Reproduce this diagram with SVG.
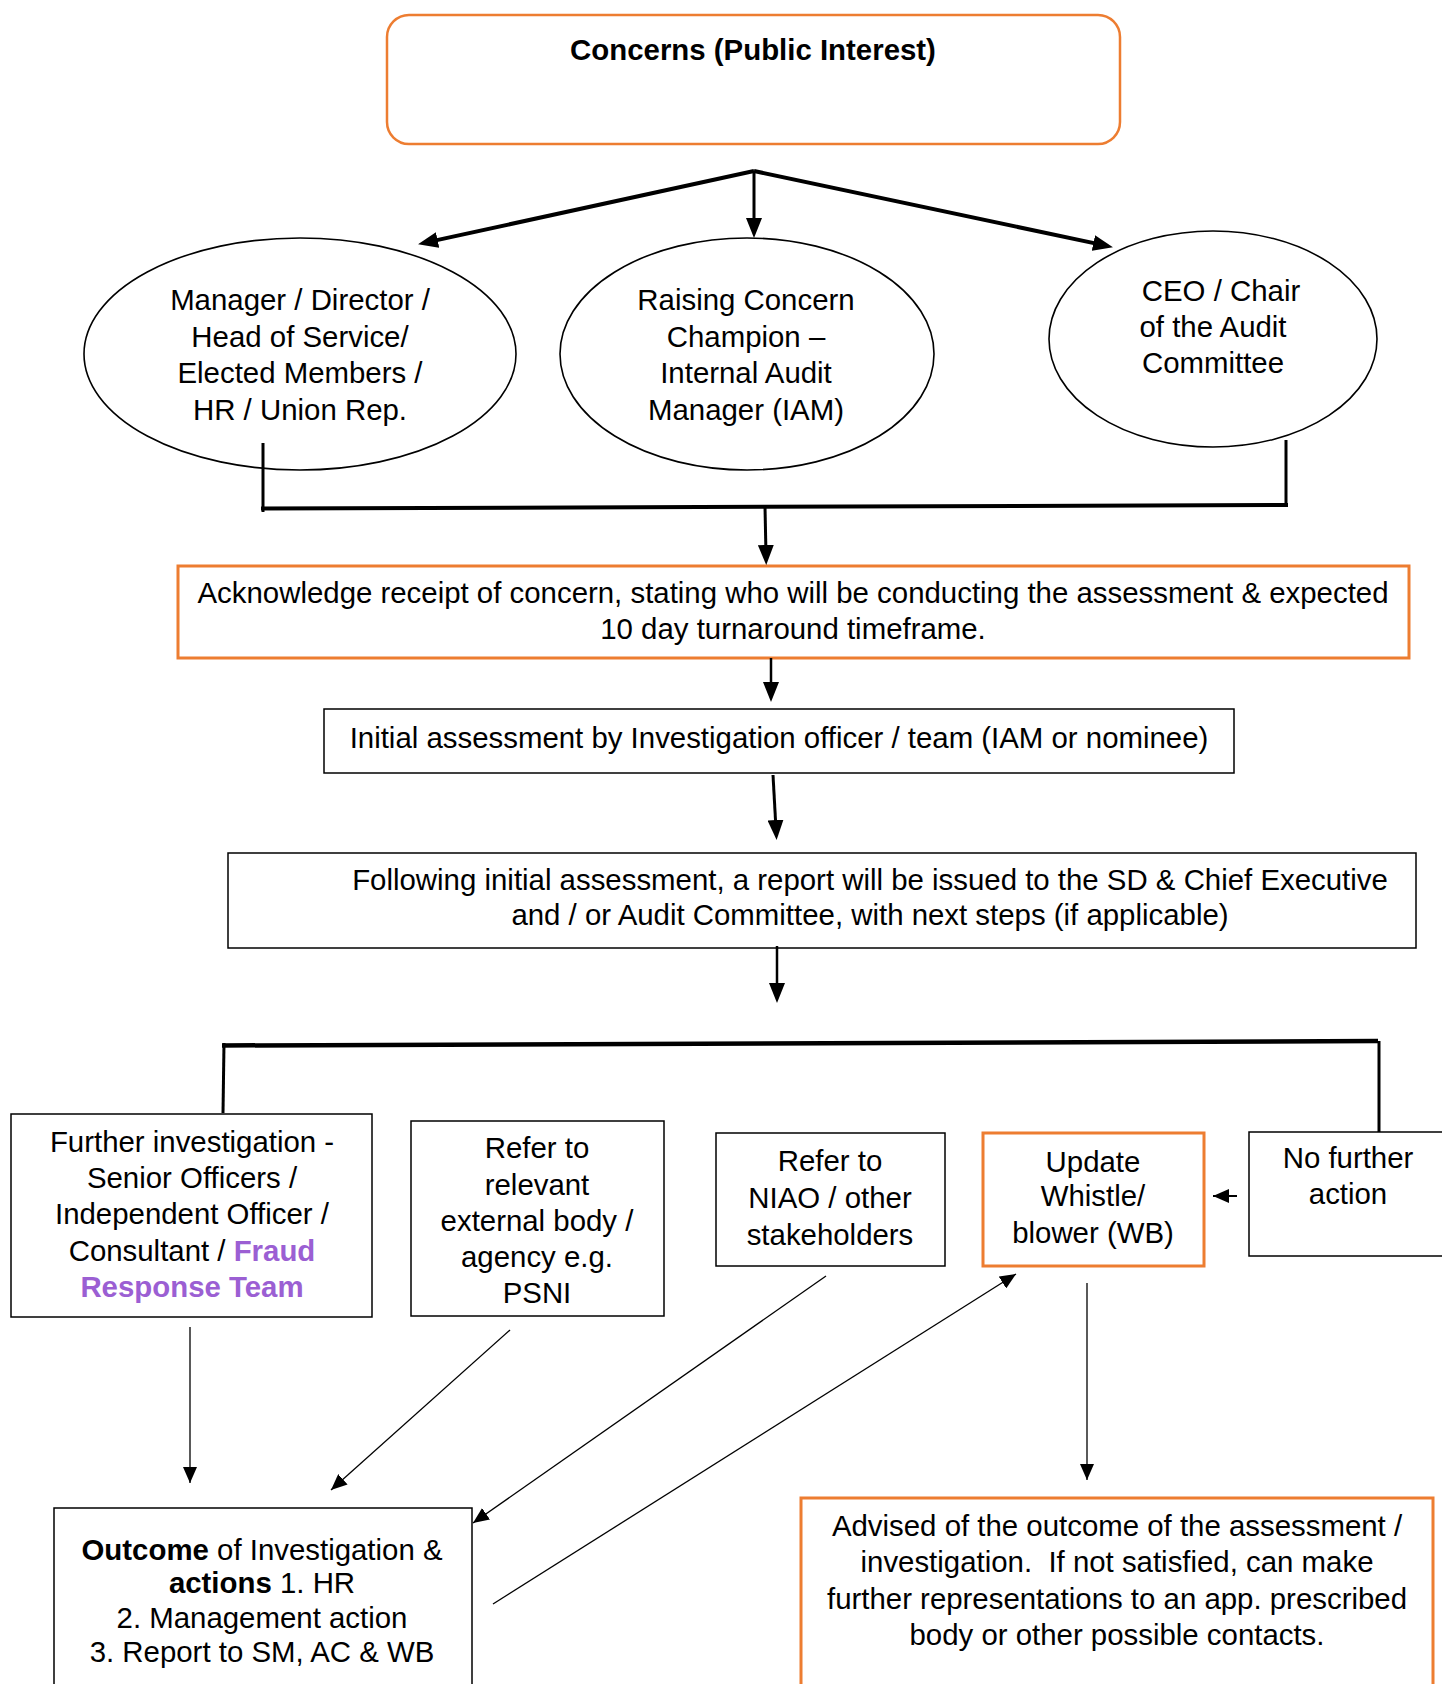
<svg xmlns="http://www.w3.org/2000/svg" width="1442" height="1684" viewBox="0 0 1442 1684">
<defs>
<style>
.t{font-family:"Liberation Sans",Arial,Helvetica,sans-serif;font-size:29.4px;fill:#000;text-anchor:middle}
.b{font-weight:bold}
.p{fill:#9B5FD3;font-weight:bold}
.box{fill:#fff;stroke:#000;stroke-width:1.5}
.obox{fill:#fff;stroke:#ED7D31;stroke-width:3}
.ell{fill:#fff;stroke:#000;stroke-width:1.6}
.ln{fill:none;stroke:#000}
</style>
<marker id="ahB" markerUnits="userSpaceOnUse" markerWidth="20" markerHeight="16" viewBox="0 0 20 16" refX="9" refY="8" orient="auto">
<path d="M0,0 L20,8 L0,16 z" fill="#000"/>
</marker>
<marker id="ahS" markerUnits="userSpaceOnUse" markerWidth="16" markerHeight="14" viewBox="0 0 16 14" refX="16" refY="7" orient="auto">
<path d="M0,0 L16,7 L0,14 z" fill="#000"/>
</marker>
</defs>
<rect width="1442" height="1684" fill="#fff"/>

<g id="concerns">
<rect x="387" y="15" width="733" height="129" rx="22" ry="22" fill="#fff" stroke="#ED7D31" stroke-width="2.5"/>
<text class="t b" x="753" y="60">Concerns (Public Interest)</text>
</g>

<g id="manager">
<ellipse class="ell" cx="300" cy="354" rx="216" ry="116"/>
<text class="t" x="300" y="310">Manager / Director /</text>
<text class="t" x="300" y="347">Head of Service/</text>
<text class="t" x="300" y="383">Elected Members /</text>
<text class="t" x="300" y="420">HR / Union Rep.</text>
</g>

<g id="champion">
<ellipse class="ell" cx="747" cy="354" rx="187" ry="116"/>
<text class="t" x="746" y="310">Raising Concern</text>
<text class="t" x="746" y="347">Champion –</text>
<text class="t" x="746" y="383">Internal Audit</text>
<text class="t" x="746" y="420">Manager (IAM)</text>
</g>

<g id="ceo">
<ellipse class="ell" cx="1213" cy="339" rx="164" ry="108"/>
<text class="t" x="1221" y="301">CEO / Chair</text>
<text class="t" x="1213" y="337">of the Audit</text>
<text class="t" x="1213" y="373">Committee</text>
</g>

<g id="acknowledge">
<rect class="obox" x="178" y="566" width="1231" height="92"/>
<text class="t" x="793" y="603">Acknowledge receipt of concern, stating who will be conducting the assessment &amp; expected</text>
<text class="t" x="793" y="639">10 day turnaround timeframe.</text>
</g>

<g id="initial">
<rect class="box" x="324" y="709" width="910" height="64" stroke-width="2"/>
<text class="t" x="779" y="748">Initial assessment by Investigation officer / team (IAM or nominee)</text>
</g>

<g id="following">
<rect class="box" x="228" y="853" width="1188" height="95" stroke-width="2.5"/>
<text class="t" x="870" y="890">Following initial assessment, a report will be issued to the SD &amp; Chief Executive</text>
<text class="t" x="870" y="925">and / or Audit Committee, with next steps (if applicable)</text>
</g>

<g id="further">
<rect class="box" x="11" y="1114" width="361" height="203"/>
<text class="t" x="192" y="1152">Further investigation -</text>
<text class="t" x="192" y="1188">Senior Officers /</text>
<text class="t" x="192" y="1224">Independent Officer /</text>
<text class="t" x="192" y="1261">Consultant / <tspan class="p">Fraud</tspan></text>
<text class="t p" x="192" y="1297">Response Team</text>
</g>

<g id="external">
<rect class="box" x="411" y="1121" width="253" height="195"/>
<text class="t" x="537" y="1158">Refer to</text>
<text class="t" x="537" y="1195">relevant</text>
<text class="t" x="537" y="1231">external body /</text>
<text class="t" x="537" y="1267">agency e.g.</text>
<text class="t" x="537" y="1303">PSNI</text>
</g>

<g id="niao">
<rect class="box" x="716" y="1133" width="229" height="133"/>
<text class="t" x="830" y="1171">Refer to</text>
<text class="t" x="830" y="1208">NIAO / other</text>
<text class="t" x="830" y="1245">stakeholders</text>
</g>

<g id="update">
<rect class="obox" x="983" y="1133" width="221" height="133" stroke-width="2.5"/>
<text class="t" x="1093" y="1172">Update</text>
<text class="t" x="1093" y="1206">Whistle/</text>
<text class="t" x="1093" y="1243">blower (WB)</text>
</g>

<g id="nofurther">
<rect class="box" x="1249" y="1132" width="200" height="124"/>
<text class="t" x="1348" y="1168">No further</text>
<text class="t" x="1348" y="1204">action</text>
</g>

<g id="outcome">
<rect class="box" x="54" y="1508" width="418" height="185" stroke-width="3"/>
<text class="t" x="262" y="1560"><tspan class="b">Outcome</tspan> of Investigation &amp;</text>
<text class="t" x="262" y="1593"><tspan class="b">actions</tspan> 1. HR</text>
<text class="t" x="262" y="1628">2. Management action</text>
<text class="t" x="262" y="1662">3. Report to SM, AC &amp; WB</text>
</g>

<g id="advised">
<rect class="obox" x="801" y="1498" width="632" height="195"/>
<text class="t" x="1117" y="1536">Advised of the outcome of the assessment /</text>
<text class="t" x="1117" y="1572">investigation.&#160; If not satisfied, can make</text>
<text class="t" x="1117" y="1609">further representations to an app. prescribed</text>
<text class="t" x="1117" y="1645">body or other possible contacts.</text>
</g>

<g id="connectors">
<line class="ln" x1="754" y1="171" x2="428.8" y2="241.9" stroke-width="4" marker-end="url(#ahB)"/>
<line class="ln" x1="754" y1="171" x2="754" y2="227" stroke-width="3" marker-end="url(#ahB)"/>
<line class="ln" x1="754" y1="171" x2="1102.2" y2="244.9" stroke-width="4" marker-end="url(#ahB)"/>

<line class="ln" x1="263" y1="443" x2="263" y2="512" stroke-width="3"/>
<line class="ln" x1="261" y1="508.5" x2="1288" y2="505" stroke-width="4"/>
<line class="ln" x1="1286" y1="440" x2="1286" y2="507" stroke-width="3"/>
<line class="ln" x1="765" y1="507" x2="766" y2="554" stroke-width="3" marker-end="url(#ahB)"/>

<line class="ln" x1="771" y1="658" x2="771" y2="691" stroke-width="2.5" marker-end="url(#ahB)"/>
<line class="ln" x1="773" y1="775" x2="776" y2="829" stroke-width="3" marker-end="url(#ahB)"/>
<line class="ln" x1="777" y1="946" x2="777" y2="992" stroke-width="2.5" marker-end="url(#ahB)"/>

<line class="ln" x1="222" y1="1045.5" x2="1378" y2="1041" stroke-width="4.5"/>
<line class="ln" x1="224" y1="1043" x2="223" y2="1113" stroke-width="3"/>
<line class="ln" x1="1379" y1="1041" x2="1379" y2="1132" stroke-width="3"/>

<line class="ln" x1="1237" y1="1196" x2="1213" y2="1196" stroke-width="2" marker-end="url(#ahS)"/>

<line class="ln" x1="190" y1="1327" x2="190" y2="1483" stroke-width="1.3" marker-end="url(#ahS)"/>
<line class="ln" x1="510" y1="1330" x2="331" y2="1490" stroke-width="1.3" marker-end="url(#ahS)"/>
<line class="ln" x1="826" y1="1276" x2="473" y2="1523" stroke-width="1.3" marker-end="url(#ahS)"/>
<line class="ln" x1="493" y1="1604" x2="1016" y2="1274" stroke-width="1.3" marker-end="url(#ahS)"/>
<line class="ln" x1="1087" y1="1283" x2="1087" y2="1480" stroke-width="1.3" marker-end="url(#ahS)"/>
</g>
</svg>
